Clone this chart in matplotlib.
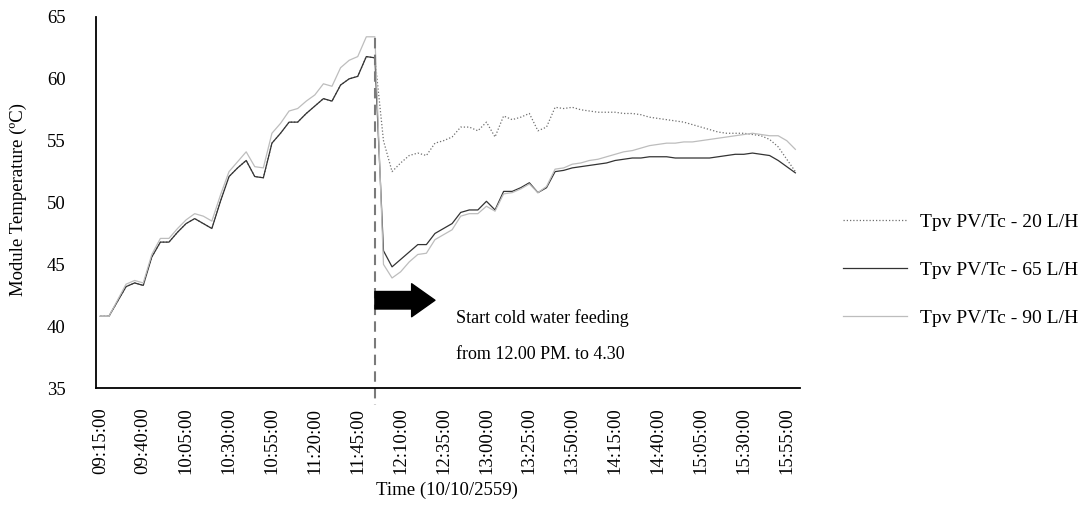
import numpy as np
import pandas as pd
import matplotlib
matplotlib.use("Agg")
import matplotlib.pyplot as plt

plt.rcParams["font.family"] = ["Liberation Serif", "DejaVu Serif"]

# 5-minute readings, 09:15 to 16:00
times = pd.date_range("2016-10-10 09:15", "2016-10-10 16:00", freq="5min").strftime("%H:%M:%S")

tpv_20 = [
    40.8, 40.8, 42.0, 43.2, 43.5, 43.3, 45.6, 46.8, 46.8, 47.6, 48.3, 48.7, 48.3, 47.9,
    50.1, 52.1, 52.8, 53.4, 52.1, 52.0, 54.8, 55.6, 56.5, 56.5, 57.2, 57.8, 58.4, 58.2,
    59.5, 60.0, 60.2, 61.8, 61.7,
    55.0, 52.5, 53.2, 53.8, 54.0, 53.8, 54.8, 55.0, 55.3, 56.1, 56.1, 55.8, 56.5, 55.3,
    57.0, 56.7, 56.9, 57.2, 55.8, 56.1, 57.7, 57.6, 57.7, 57.5, 57.4, 57.3, 57.3, 57.3,
    57.2, 57.2, 57.1, 56.9, 56.8,
    56.7, 56.6, 56.5, 56.3, 56.1, 55.9, 55.7, 55.6, 55.6, 55.6, 55.5, 55.4, 55.1, 54.5,
    53.5, 52.5,
]
tpv_65 = [
    40.8, 40.8, 42.0, 43.2, 43.5, 43.3, 45.6, 46.8, 46.8, 47.6, 48.3, 48.7, 48.3, 47.9,
    50.1, 52.1, 52.8, 53.4, 52.1, 52.0, 54.8, 55.6, 56.5, 56.5, 57.2, 57.8, 58.4, 58.2,
    59.5, 60.0, 60.2, 61.8, 61.7,
    46.1, 44.8, 45.4, 46.0, 46.6, 46.6, 47.5, 47.9, 48.3, 49.2, 49.4, 49.4, 50.1, 49.4,
    50.9, 50.9, 51.2, 51.6, 50.8, 51.2, 52.5, 52.6, 52.8, 52.9, 53.0, 53.1, 53.2, 53.4,
    53.5, 53.6, 53.6, 53.7, 53.7,
    53.7, 53.6, 53.6, 53.6, 53.6, 53.6, 53.7, 53.8, 53.9, 53.9, 54.0, 53.9, 53.8, 53.4,
    52.9, 52.4,
]
tpv_90 = [
    40.8, 40.8, 42.1, 43.4, 43.7, 43.5, 45.8, 47.1, 47.1, 47.9, 48.6, 49.1, 48.9, 48.5,
    50.6, 52.5, 53.3, 54.1, 52.9, 52.8, 55.6, 56.4, 57.4, 57.6, 58.2, 58.7, 59.6, 59.4,
    60.9, 61.5, 61.8, 63.4, 63.4,
    45.0, 43.9, 44.4, 45.2, 45.8, 45.9, 47.0, 47.4, 47.8, 48.9, 49.1, 49.1, 49.7, 49.3,
    50.7, 50.8, 51.1, 51.5, 50.8, 51.3, 52.7, 52.8, 53.1, 53.2, 53.4, 53.5, 53.7, 53.9,
    54.1, 54.2, 54.4, 54.6, 54.7,
    54.8, 54.8, 54.9, 54.9, 55.0, 55.1, 55.2, 55.3, 55.4, 55.5, 55.6, 55.5, 55.4, 55.4,
    55.0, 54.3,
]
labels = ["Tpv PV/Tc - 20 L/H", "Tpv PV/Tc - 65 L/H", "Tpv PV/Tc - 90 L/H"]
feed_start = "11:55:00"

x = np.arange(len(times))

fig = plt.figure(figsize=(10.85, 5.23), dpi=100)
ax = fig.add_axes([0.0885, 0.258, 0.6485, 0.7095])

ax.plot(x, tpv_20, color="#6f6f6f", lw=0.9, ls=(0, (1, 1.6)), label=labels[0])
ax.plot(x, tpv_65, color="#333333", lw=0.9, label=labels[1])
ax.plot(x, tpv_90, color="#bdbdbd", lw=0.9, label=labels[2])

# start of cold water feed
xs = list(times).index(feed_start)
ax.plot([xs, xs], [63.3, 33.6], color="#7a7a7a", lw=1.5, ls=(0, (5, 3)), clip_on=False)
ax.annotate("", xy=(xs + 7, 42.1), xytext=(xs, 42.1),
            arrowprops=dict(arrowstyle="simple,head_length=1.2,head_width=1.7,tail_width=0.9",
                            fc="black", ec="black", shrinkA=0, shrinkB=0, mutation_scale=14))
ax.text(xs + 9.5, 40.65, "Start cold water feeding", fontsize=13, va="center")
ax.text(xs + 9.5, 37.7, "from 12.00 PM. to 4.30", fontsize=13, va="center")

ax.set_xlim(-0.5, len(times) - 0.5)
ax.set_ylim(35, 65)
ax.set_yticks(range(35, 66, 5))
ax.set_xticks(x[::5])
ax.set_xticklabels(times[::5], rotation=90)
ax.tick_params(axis="both", length=0, labelsize=13.5)
ax.tick_params(axis="y", pad=22)
ax.tick_params(axis="x", pad=14)

for side in ("top", "right"):
    ax.spines[side].set_visible(False)
for side in ("left", "bottom"):
    ax.spines[side].set_linewidth(1.3)
    ax.spines[side].set_color("black")

fig.text(18 / 1085, 1 - 200 / 523, "Module Temperature (ºC)", rotation=90,
         ha="center", va="center", fontsize=13.5)
fig.text(447 / 1085, 1 - 490 / 523, "Time (10/10/2559)", ha="center", va="center", fontsize=13.5)

fig.legend(loc="center left", bbox_to_anchor=(843 / 1085, 1 - 270 / 523),
           bbox_transform=fig.transFigure, frameon=False, fontsize=14,
           handlelength=3.3, handletextpad=0.65, labelspacing=1.55,
           borderpad=0, borderaxespad=0)

fig.savefig("out.png", dpi=100)
